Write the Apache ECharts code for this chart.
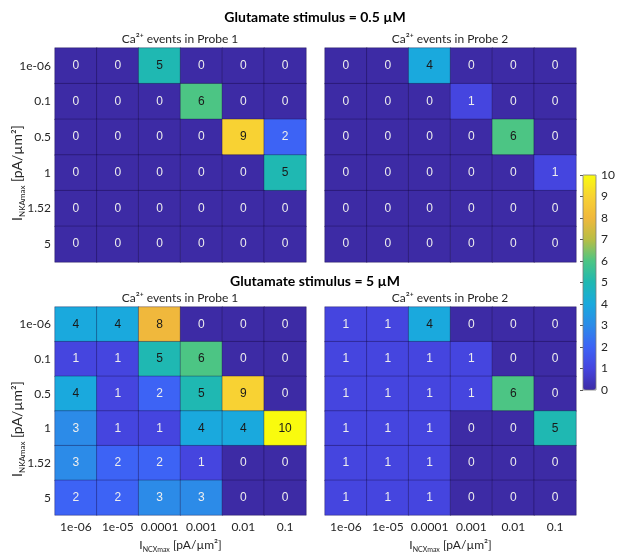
<!DOCTYPE html>
<html><head><meta charset="utf-8">
<script src="https://cdn.jsdelivr.net/npm/echarts@6/dist/echarts.min.js"></script>
<style>html,body{margin:0;padding:0;background:#fff}#c{width:624px;height:554px}</style>
</head><body><div id="c"></div>
<script>
const xCats = ['1e-06','1e-05','0.0001','0.001','0.01','0.1'];
const yCats = ['1e-06','0.1','0.5','1','1.52','5'];
const colorbarTicks = [0,10];
// rows follow yCats, columns follow xCats
const low_probe1 = [
  [0,0,5,0,0,0],
  [0,0,0,6,0,0],
  [0,0,0,0,9,2],
  [0,0,0,0,0,5],
  [0,0,0,0,0,0],
  [0,0,0,0,0,0]
];
const low_probe2 = [
  [0,0,4,0,0,0],
  [0,0,0,1,0,0],
  [0,0,0,0,6,0],
  [0,0,0,0,0,1],
  [0,0,0,0,0,0],
  [0,0,0,0,0,0]
];
const high_probe1 = [
  [4,4,8,0,0,0],
  [1,1,5,6,0,0],
  [4,1,2,5,9,0],
  [3,1,1,4,4,10],
  [3,2,2,1,0,0],
  [2,2,3,3,0,0]
];
const high_probe2 = [
  [1,1,4,0,0,0],
  [1,1,1,1,0,0],
  [1,1,1,1,6,0],
  [1,1,1,0,0,5],
  [1,1,1,0,0,0],
  [1,1,1,0,0,0]
];
const matrices = [low_probe1, low_probe2, high_probe1, high_probe2];

const FONT = 'Lato';
const TXT = '#262626';
const parula = ['#3D2BA5','#4545DF','#3D63F5','#2C8BE8','#1AA9DD','#1FB8B2','#4CC584','#B8BE45','#F0B83C','#F8D233','#F9FB0E'];

function toData(m){
  const out = [];
  m.forEach((row, yi) => row.forEach((v, xi) => {
    out.push({value:[xi, yi, v], label:{color: v >= 4 ? '#1a1a1a' : '#eeeeee'}});
  }));
  return out;
}

const gridPos = [
  {left:55, top:48}, {left:325, top:48},
  {left:55, top:307}, {left:325, top:307}
];
const grids = gridPos.map(p => ({left:p.left, top:p.top, width:251, height:214, containLabel:false}));
grids.push({left:583, top:175, width:13, height:215, show:true, borderColor:'#7a7a7a', borderWidth:0.8, backgroundColor:'transparent', z:10});

const richSub = {
  a:{fontFamily:FONT, fontSize:12, color:TXT, lineHeight:16, verticalAlign:'middle'},
  s:{fontFamily:FONT, fontSize:7, color:TXT, lineHeight:16, verticalAlign:'bottom', padding:[6,0,0,0]}
};
const richSubY = {
  a:{fontFamily:FONT, fontSize:14, color:TXT, lineHeight:18, verticalAlign:'middle'},
  s:{fontFamily:FONT, fontSize:8, color:TXT, lineHeight:18, verticalAlign:'bottom', padding:[7,0,0,0]}
};

const xAxes = [0,1,2,3].map(i => ({
  type:'category', data:xCats, gridIndex:i,
  axisLine:{show:false}, axisTick:{show:false}, splitLine:{show:false},
  axisLabel:{show:i>=2, interval:0, fontFamily:FONT, fontSize:12, color:TXT, margin:6},
  name: i>=2 ? '{a|I}{s|NCXmax}{a| [pA/µm²]}' : '',
  nameLocation:'middle', nameGap:22, nameMoveOverlap:false,
  nameTextStyle:{rich:richSub}
}));
xAxes.push({type:'value', gridIndex:4, show:false, min:0, max:1});

const yAxes = [0,1,2,3].map(i => ({
  type:'category', data:yCats, gridIndex:i, inverse:true,
  axisLine:{show:false}, axisTick:{show:false}, splitLine:{show:false},
  axisLabel:{show:i%2===0, interval:0, fontFamily:FONT, fontSize:12, color:TXT, margin:4},
  name: i%2===0 ? '{a|I}{s|NKAmax}{a| [pA/µm²]}' : '',
  nameLocation:'middle', nameGap:29, nameRotate:90, nameMoveOverlap:false,
  nameTextStyle:{rich:richSubY, padding:[0,36,0,0]}
}));
yAxes.push({type:'value', gridIndex:4, position:'right', min:colorbarTicks[0], max:colorbarTicks[1], interval:1,
  axisLine:{show:false}, axisTick:{show:true, inside:true, length:3, lineStyle:{color:'#555'}},
  splitLine:{show:false},
  axisLabel:{fontFamily:FONT, fontSize:12, color:TXT, margin:5}});

const series = matrices.map((m, i) => ({
  type:'heatmap', xAxisIndex:i, yAxisIndex:i, data:toData(m),
  label:{show:true, fontFamily:'Liberation Sans', fontSize:12},
  itemStyle:{borderColor:'rgba(20,10,60,0.35)', borderWidth:1},
  emphasis:{disabled:true}
}));
series.push({type:'line', xAxisIndex:4, yAxisIndex:4, data:[], silent:true});

const graphicTexts = [
  {x:315, y:17, text:'Glutamate stimulus = 0.5 µM', bold:true},
  {x:180, y:39, text:'Ca²⁺ events in Probe 1'},
  {x:450, y:39, text:'Ca²⁺ events in Probe 2'},
  {x:315, y:281, text:'Glutamate stimulus = 5 µM', bold:true},
  {x:180, y:298, text:'Ca²⁺ events in Probe 1'},
  {x:450, y:298, text:'Ca²⁺ events in Probe 2'}
].map(t => ({
  type:'text', x:t.x, y:t.y,
  style:{text:t.text, textAlign:'center', textVerticalAlign:'middle',
    font:(t.bold?'bold 14px ':'12px ') + FONT, fill: t.bold ? '#000' : TXT}
}));

const chart = echarts.init(document.getElementById('c'), null, {renderer:'canvas'});
chart.setOption({
  backgroundColor:'#fff',
  animation:false,
  grid:grids, xAxis:xAxes, yAxis:yAxes, series:series,
  visualMap:{
    type:'continuous', min:0, max:10, seriesIndex:[0,1,2,3],
    calculable:false, show:true, orient:'vertical',
    left:583, top:175, itemWidth:13, itemHeight:215, padding:0,
    text:null, showLabel:false, hoverLink:false,
    inRange:{color:parula}
  },
  graphic:graphicTexts
});
</script></body></html>
